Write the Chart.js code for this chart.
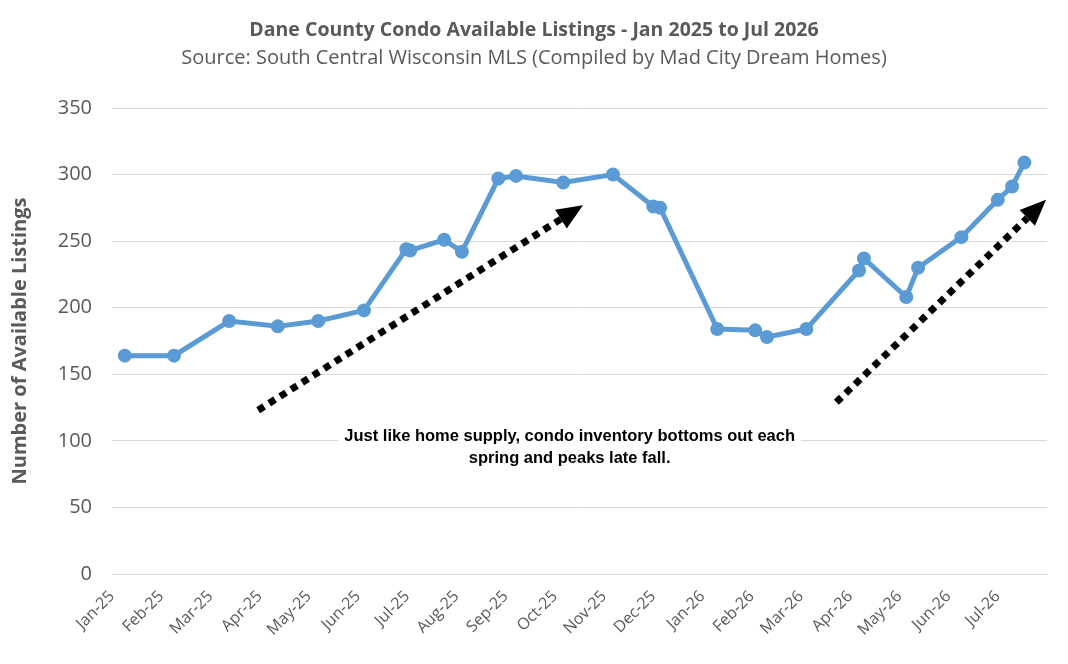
<!DOCTYPE html>
<html lang="en">
  <head>
    <meta charset="UTF-8" />
    <title>Dane County Condo Available Listings</title>
    <style>
      html, body {
        margin: 0;
        padding: 0;
        background: #fff;
      }
      .container {
        width: 1068px;
        height: 664px;
      }
    </style>
  </head>
  <body>
    <div class="container">
      <canvas id="myChart"></canvas>
    </div>
  </body>
  <script src="https://cdn.jsdelivr.net/npm/chart.js"></script>
  <script>
    // month tick labels, tick i sits at the start of that month
    const monthLabels = ['Jan-25', 'Feb-25', 'Mar-25', 'Apr-25', 'May-25', 'Jun-25', 'Jul-25', 'Aug-25',
      'Sep-25', 'Oct-25', 'Nov-25', 'Dec-25', 'Jan-26', 'Feb-26', 'Mar-26', 'Apr-26', 'May-26',
      'Jun-26', 'Jul-26'];

    // x position of each reading, in months since Jan 1 2025
    const pointMonths = [0.26, 1.26, 2.38, 3.37, 4.19, 5.12, 5.98, 6.06, 6.75, 7.11, 7.85, 8.21,
      9.17, 10.18, 11.0, 11.14, 12.3, 13.07, 13.31, 14.11, 15.18, 15.28, 16.14, 16.38, 17.26,
      18.0, 18.29, 18.54];
    const listings = [164, 164, 190, 186, 190, 198, 244, 243, 251, 242, 297, 299,
      294, 300, 276, 275, 184, 183, 178, 184, 228, 237, 208, 230, 253,
      281, 291, 309];

    // annotation arrows, [x1, y1, x2, y2] in chart values
    const arrows = [
      [2.97, 123, 9.57, 277],
      [14.72, 129, 18.98, 281],
    ];
    const noteLines = ['Just like home supply, condo inventory bottoms out each', 'spring and peaks late fall.'];
    const notePos = [9.3, 103];

    const titleText = 'Dane County Condo Available Listings - Jan 2025 to Jul 2026';
    const subtitleText = 'Source: South Central Wisconsin MLS (Compiled by Mad City Dream Homes)';

    const grey = '#595959';

    const extras = {
      id: 'extras',
      afterDraw(chart) {
        const { ctx, scales: { x, y } } = chart;
        ctx.save();
        // titles
        ctx.fillStyle = grey;
        ctx.textAlign = 'center';
        ctx.textBaseline = 'middle';
        ctx.font = 'bold 19.5px "Open Sans"';
        ctx.fillText(titleText, 534, 30);
        ctx.font = '20px "Open Sans"';
        ctx.fillText(subtitleText, 534, 58);

        // dotted arrows
        arrows.forEach(([a, b, c, d]) => {
          const x1 = x.getPixelForValue(a), y1 = y.getPixelForValue(b);
          const x2 = x.getPixelForValue(c), y2 = y.getPixelForValue(d);
          const ang = Math.atan2(y2 - y1, x2 - x1);
          const head = 26, half = 11;
          const bx = x2 - head * Math.cos(ang), by = y2 - head * Math.sin(ang);
          ctx.strokeStyle = '#000';
          ctx.lineWidth = 7;
          ctx.lineCap = 'butt';
          ctx.setLineDash([7, 6]);
          ctx.beginPath();
          ctx.moveTo(x1, y1);
          ctx.lineTo(bx, by);
          ctx.stroke();
          ctx.setLineDash([]);
          ctx.fillStyle = '#000';
          ctx.beginPath();
          ctx.moveTo(x2, y2);
          ctx.lineTo(bx + half * Math.sin(ang), by - half * Math.cos(ang));
          ctx.lineTo(bx - half * Math.sin(ang), by + half * Math.cos(ang));
          ctx.closePath();
          ctx.fill();
        });

        // note text on a white box
        ctx.font = 'bold 16.5px "Liberation Sans"';
        const nx = x.getPixelForValue(notePos[0]);
        const ny = y.getPixelForValue(notePos[1]);
        const w = Math.max(...noteLines.map((t) => ctx.measureText(t).width)) + 12;
        ctx.fillStyle = '#fff';
        ctx.fillRect(nx - w / 2, ny - 12, w, 22 * noteLines.length + 2);
        ctx.fillStyle = '#000';
        noteLines.forEach((t, i) => ctx.fillText(t, nx, ny + i * 22));
        ctx.restore();
      },
    };

    const data = {
      datasets: [
        {
          label: 'Available Listings',
          data: pointMonths.map((m, i) => ({ x: m, y: listings[i] })),
          borderColor: '#5B9BD5',
          backgroundColor: '#5B9BD5',
          borderWidth: 5,
          pointRadius: 4.5,
          pointHoverRadius: 4.5,
          tension: 0,
        },
      ],
    };

    new Chart(document.getElementById('myChart'), {
      type: 'line',
      data: data,
      options: {
        responsive: true,
        maintainAspectRatio: false,
        animation: false,
        layout: { padding: { top: 108, right: 21, left: 0, bottom: 0 } },
        plugins: {
          legend: { display: false },
          title: { display: false },
          tooltip: { enabled: false },
        },
        scales: {
          x: {
            type: 'linear',
            min: 0,
            max: 19,
            afterFit(scale) { scale.height = 90; },
            afterBuildTicks(scale) {
              scale.ticks = monthLabels.map((_, i) => ({ value: i }));
            },
            grid: { display: false, drawTicks: false },
            border: { color: '#d9d9d9', width: 1 },
            ticks: {
              autoSkip: false,
              minRotation: 45,
              maxRotation: 45,
              padding: 13,
              color: grey,
              font: { family: 'Open Sans', size: 16 },
              callback: (v) => monthLabels[v] ?? '',
            },
          },
          y: {
            min: 0,
            max: 350,
            afterFit(scale) { scale.width = 112; },
            grid: { color: '#d9d9d9', lineWidth: 1, drawTicks: false },
            border: { display: false },
            ticks: {
              stepSize: 50,
              padding: 20,
              color: grey,
              font: { family: 'Open Sans', size: 20 },
            },
            title: {
              display: true,
              text: 'Number of Available Listings',
              color: grey,
              font: { family: 'Open Sans', size: 20, weight: 'bold' },
              padding: { top: 8, bottom: 0 },
            },
          },
        },
      },
      plugins: [extras],
    });
  </script>
</html>
